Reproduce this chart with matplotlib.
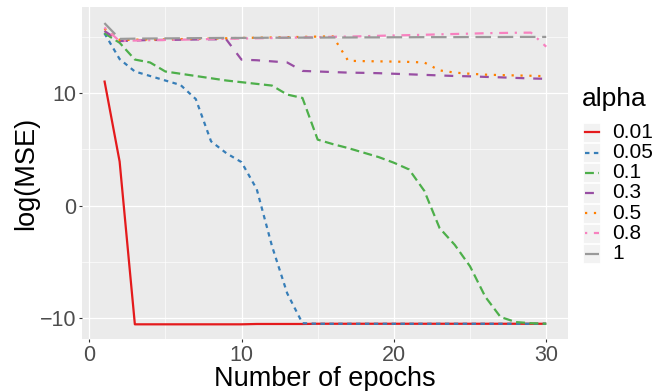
import numpy as np
import matplotlib
matplotlib.use("Agg")
import matplotlib.pyplot as plt
from matplotlib.lines import Line2D
from matplotlib.patches import Rectangle

plt.rcParams['font.family'] = ['Liberation Sans', 'DejaVu Sans']

# data
epochs = list(range(1, 31))
alphas = ['0.01', '0.05', '0.1', '0.3', '0.5', '0.8', '1']
mse_001 = [11.1, 3.9, -10.55, -10.55, -10.55, -10.55, -10.55, -10.55, -10.55, -10.55,
           -10.52, -10.52, -10.52, -10.52, -10.5, -10.5, -10.5, -10.5, -10.5, -10.5,
           -10.5, -10.5, -10.5, -10.5, -10.5, -10.5, -10.5, -10.5, -10.5, -10.5]
mse_005 = [15.3, 13.0, 11.9, 11.5, 11.1, 10.7, 9.45, 5.7, 4.65, 3.85,
           1.45, -3.6, -7.8, -10.45, -10.5, -10.5, -10.5, -10.5, -10.5, -10.5,
           -10.5, -10.5, -10.5, -10.5, -10.5, -10.5, -10.5, -10.5, -10.5, -10.5]
mse_01 = [15.3, 14.45, 12.96, 12.7, 11.9, 11.7, 11.5, 11.3, 11.1, 10.95,
          10.8, 10.65, 9.85, 9.55, 5.85, 5.45, 5.1, 4.7, 4.3, 3.8,
          3.2, 1.3, -2.0, -3.5, -5.4, -8.1, -9.9, -10.35, -10.45, -10.5]
mse_03 = [15.5, 14.6, 14.65, 14.7, 14.7, 14.72, 14.74, 14.76, 14.75, 12.95,
          12.9, 12.8, 12.7, 11.95, 11.9, 11.85, 11.8, 11.78, 11.75, 11.7,
          11.65, 11.6, 11.55, 11.5, 11.47, 11.42, 11.38, 11.33, 11.28, 11.25]
mse_05 = [15.7, 14.7, 14.72, 14.75, 14.75, 14.78, 14.8, 14.82, 14.85, 14.88,
          14.9, 14.92, 14.95, 14.97, 15.0, 15.02, 12.85, 12.82, 12.8, 12.78,
          12.75, 12.7, 12.0, 11.8, 11.7, 11.62, 11.58, 11.55, 11.52, 11.48]
mse_08 = [15.8, 14.6, 14.65, 14.68, 14.7, 14.72, 14.75, 14.78, 14.8, 14.83,
          14.85, 14.87, 14.9, 14.92, 14.95, 14.98, 15.0, 15.03, 15.07, 15.1,
          15.13, 15.16, 15.2, 15.23, 15.26, 15.3, 15.32, 15.34, 15.35, 14.1]
mse_1 = [16.2, 14.8, 14.82, 14.83, 14.84, 14.85, 14.86, 14.87, 14.88, 14.88,
         14.89, 14.9, 14.9, 14.91, 14.91, 14.92, 14.92, 14.93, 14.93, 14.94,
         14.94, 14.95, 14.95, 14.95, 14.96, 14.96, 14.96, 14.97, 14.97, 14.97]
series = [mse_001, mse_005, mse_01, mse_03, mse_05, mse_08, mse_1]

colors = ['#E41A1C', '#377EB8', '#4DAF4A', '#984EA3', '#FF7F00', '#F781BF', '#999999']
dashes = [None, (2, 2), (4, 2), (4, 4), (1, 3), (1, 3, 4, 3), (7, 3)]
lw = 1.6

W, H = 656, 391
fig = plt.figure(figsize=(W / 100, H / 100), dpi=100)
# panel pixel box: left 82.3, right 568.3, top 7.3, bottom 339.3
ax = fig.add_axes([82.3 / W, 1 - 339.3 / H, (568.3 - 82.3) / W, (339.3 - 7.3) / H])
ax.set_facecolor('#EBEBEB')
for s in ax.spines.values():
    s.set_visible(False)

for vals, c, d in zip(series, colors, dashes):
    ln, = ax.plot(epochs, vals, color=c, lw=lw, solid_capstyle='butt')
    if d is not None:
        ln.set_dashes(d)

ax.set_xlim(-0.45, 31.45)
ax.set_ylim(-11.88, 17.6)
ax.set_xticks([0, 10, 20, 30])
ax.set_xticks([5, 15, 25], minor=True)
ax.set_yticks([-10, 0, 10])
ax.set_yticks([-5, 5, 15], minor=True)
ax.set_yticklabels(['\u221210', '0', '10'])
ax.grid(which='major', color='white', lw=0.9)
ax.grid(which='minor', color='white', lw=0.45)
ax.set_axisbelow(True)
ax.tick_params(which='major', length=2.2, width=0.8, color='#333333',
               labelsize=15.5, labelcolor='#4D4D4D', pad=2)
ax.tick_params(which='minor', length=0)

ax.set_xlabel('Number of epochs', fontsize=19.5, color='black')
ax.set_ylabel('log(MSE)', fontsize=19.5, color='black')
ax.xaxis.set_label_coords(0.5, -(379 - 339.3) / 332)
ax.xaxis.label.set_va('center')
ax.yaxis.set_label_coords((26 - 82.3) / 486, 0.5)
ax.yaxis.label.set_va('center')

# legend drawn by hand, ggplot style
def fx(px):
    return px / W


def fy(py):
    return 1 - py / H


fig.text(fx(582), fy(99), 'alpha', fontsize=19, va='center', ha='left')
for i, (lab, c, d) in enumerate(zip(alphas, colors, dashes)):
    yc = 132.3 + i * 20.2
    fig.patches.append(Rectangle((fx(583), fy(yc + 9.6)), 17.3 / W, 19.2 / H,
                                 transform=fig.transFigure, facecolor='#F2F2F2',
                                 edgecolor='white', lw=0.6))
    key = Line2D([fx(584.5), fx(598.5)], [fy(yc), fy(yc)], transform=fig.transFigure,
                 color=c, lw=lw)
    if d is not None:
        key.set_dashes(d)
    fig.add_artist(key)
    fig.text(fx(612), fy(yc), lab, fontsize=15, va='center', ha='left')

fig.savefig('out.png', dpi=100)
